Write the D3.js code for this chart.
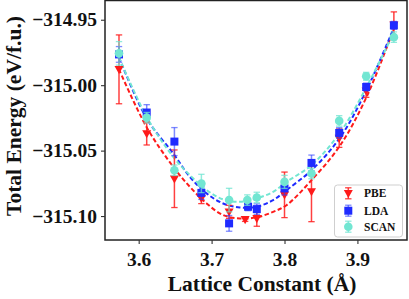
<!DOCTYPE html>
<html>
<head>
<meta charset="utf-8">
<script src="https://cdn.jsdelivr.net/npm/d3@7"></script>
<style>
  html, body { margin: 0; padding: 0; background: #fff; }
  svg { display: block; }
  text { font-family: "Liberation Serif", "Times New Roman", serif; font-weight: bold; fill: #111; }
</style>
</head>
<body>
<svg id="chart" width="409" height="299"></svg>
<script>
// ---- data ----
const pbeX  = [3.573, 3.611, 3.649, 3.686, 3.724, 3.746, 3.762, 3.800, 3.837, 3.875, 3.912, 3.950];
const pbeE  = [-314.9879, -315.0370, -315.0715, -315.0865, -315.0968, -315.1026, -315.1018, -315.0838, -315.0813, -315.0405, -315.0043, -314.9540];
const pbeErr = [0.0263, 0.0087, 0.0220, 0.0040, 0.0050, 0.0015, 0.0060, 0.0174, 0.0230, 0.0070, 0.0050, 0.0100];

const ldaX  = [3.573, 3.611, 3.649, 3.686, 3.724, 3.750, 3.762, 3.800, 3.837, 3.875, 3.912, 3.950];
const ldaE  = [-314.9765, -315.0209, -315.0431, -315.0823, -315.1056, -315.0929, -315.0947, -315.0789, -315.0594, -315.0365, -315.0014, -314.9543];
const ldaErr = [0.0060, 0.0060, 0.0107, 0.0050, 0.0060, 0.0030, 0.0040, 0.0050, 0.0060, 0.0040, 0.0030, 0.0030];

const scanX = [3.573, 3.611, 3.649, 3.686, 3.724, 3.749, 3.762, 3.800, 3.837, 3.875, 3.912, 3.950];
const scanE = [-314.9757, -315.0248, -315.0650, -315.0751, -315.0878, -315.0878, -315.0858, -315.0739, -315.0675, -315.0273, -314.9932, -314.9633];
const scanErr = [0.0090, 0.0040, 0.0040, 0.0070, 0.0090, 0.0040, 0.0040, 0.0050, 0.0040, 0.0040, 0.0030, 0.0040];

const fitX    = [3.573, 3.611, 3.6474, 3.6703, 3.6932, 3.7159, 3.7388, 3.7616, 3.7844, 3.8027, 3.837, 3.8756, 3.9123, 3.9501];
const pbeFit  = [-314.9879, -315.0322, -315.0624, -315.0777, -315.0904, -315.0993, -315.1018, -315.1010, -315.0968, -315.0917, -315.0726, -315.0466, -315.0093, -314.9566];
const ldaFit  = [-314.9788, -315.0255, -315.0522, -315.0701, -315.0827, -315.0904, -315.0934, -315.0929, -315.0878, -315.0802, -315.0650, -315.0405, -315.0039, -314.9559];
const scanFit = [-314.9788, -315.0243, -315.0548, -315.0688, -315.0802, -315.0873, -315.0891, -315.0865, -315.0815, -315.0739, -315.0611, -315.0367, -315.0016, -314.9597];

const xTicks = [3.6, 3.7, 3.8, 3.9];
const yTicks = [-314.95, -315.00, -315.05, -315.10];
const seriesNames = ["PBE", "LDA", "SCAN"];

// ---- layout ----
const svg = d3.select("#chart");
const L = 105, R = 407, T = 0.5, B = 240;
const x = d3.scaleLinear().domain([3.5538, 3.968]).range([L, R]);
const y = d3.scaleLinear().domain([-315.1183, -314.9353]).range([B, T]);

const colors = { PBE: "#ff1a1a", LDA: "#1f2bff", SCAN: "#72e6d2" };
const errColors = { PBE: "rgba(255,30,30,0.85)", LDA: "rgba(40,60,255,0.6)", SCAN: "rgba(110,228,208,0.75)" };

// fit curves
const line = d3.line().x(d => x(d[0])).y(d => y(d[1])).curve(d3.curveCatmullRom);
const fits = [["PBE", pbeFit], ["LDA", ldaFit], ["SCAN", scanFit]];
fits.forEach(([name, vals]) => {
  svg.append("path")
    .attr("d", line(fitX.map((v, i) => [v, vals[i]])))
    .attr("fill", "none")
    .attr("stroke", colors[name])
    .attr("stroke-width", 2)
    .attr("stroke-dasharray", "4.5,2.5");
});

// markers
function drawMarker(g, name, cx, cy) {
  if (name === "PBE") {
    const s = 4.5;
    g.append("path")
      .attr("d", `M${cx - s},${cy - s * 0.75} L${cx + s},${cy - s * 0.75} L${cx},${cy + s * 1.05} Z`)
      .attr("fill", colors[name]);
  } else if (name === "LDA") {
    g.append("rect").attr("x", cx - 4).attr("y", cy - 4).attr("width", 8).attr("height", 8)
      .attr("fill", colors[name]);
  } else {
    g.append("circle").attr("cx", cx).attr("cy", cy).attr("r", 4.3).attr("fill", colors[name]);
  }
}
function drawErr(g, name, cx, yTop, yBot) {
  const c = errColors[name];
  g.append("line").attr("x1", cx).attr("x2", cx).attr("y1", yTop).attr("y2", yBot)
    .attr("stroke", c).attr("stroke-width", 1.5);
  [yTop, yBot].forEach(yy => g.append("line").attr("x1", cx - 3.2).attr("x2", cx + 3.2)
    .attr("y1", yy).attr("y2", yy).attr("stroke", c).attr("stroke-width", 1.3));
}

const series = [
  ["PBE", pbeX, pbeE, pbeErr],
  ["LDA", ldaX, ldaE, ldaErr],
  ["SCAN", scanX, scanE, scanErr]
];
series.forEach(([name, xs, es, errs]) => {
  const g = svg.append("g");
  xs.forEach((xv, i) => {
    drawErr(g, name, x(xv), y(es[i] + errs[i]), y(es[i] - errs[i]));
    drawMarker(g, name, x(xv), y(es[i]));
  });
});

// frame
svg.append("rect").attr("x", L).attr("y", T).attr("width", R - L).attr("height", B - T)
  .attr("fill", "none").attr("stroke", "#222").attr("stroke-width", 1.5);

// axes
const xAxis = svg.append("g").attr("transform", `translate(0,${B})`)
  .call(d3.axisBottom(x).tickValues(xTicks).tickFormat(d3.format(".1f")).tickSize(4).tickPadding(8));
const yAxis = svg.append("g").attr("transform", `translate(${L},0)`)
  .call(d3.axisLeft(y).tickValues(yTicks).tickFormat(d3.format(".2f")).tickSize(4).tickPadding(4));
[xAxis, yAxis].forEach(a => {
  a.select(".domain").remove();
  a.selectAll(".tick line").attr("stroke", "#333").attr("stroke-width", 1.1);
  a.selectAll(".tick text").style("font-family", "'Liberation Serif', serif")
    .style("font-weight", "bold").style("font-size", "19.5px").attr("fill", "#111");
});

// axis titles
svg.append("text").attr("x", 262).attr("y", 291).attr("text-anchor", "middle")
  .style("font-size", "21.5px").text("Lattice Constant (Å)");
svg.append("text").attr("transform", "translate(20.5,116) rotate(-90)").attr("text-anchor", "middle")
  .style("font-size", "21.5px").text("Total Energy (eV/f.u.)");

// legend
const lg = svg.append("g");
lg.append("rect").attr("x", 334.5).attr("y", 185).attr("width", 68).attr("height", 52)
  .attr("rx", 3).attr("fill", "rgba(255,255,255,0.85)").attr("stroke", "#cfcfcf").attr("stroke-width", 1);
const legY = [193.3, 210.7, 226.7];
seriesNames.forEach((name, i) => {
  drawErr(lg, name, 348.3, legY[i] - 5.5, legY[i] + 5.5);
  drawMarker(lg, name, 348.3, legY[i]);
  lg.append("text").attr("x", 364).attr("y", legY[i] + 4).style("font-size", "11.5px").text(name);
});
</script>
</body>
</html>
